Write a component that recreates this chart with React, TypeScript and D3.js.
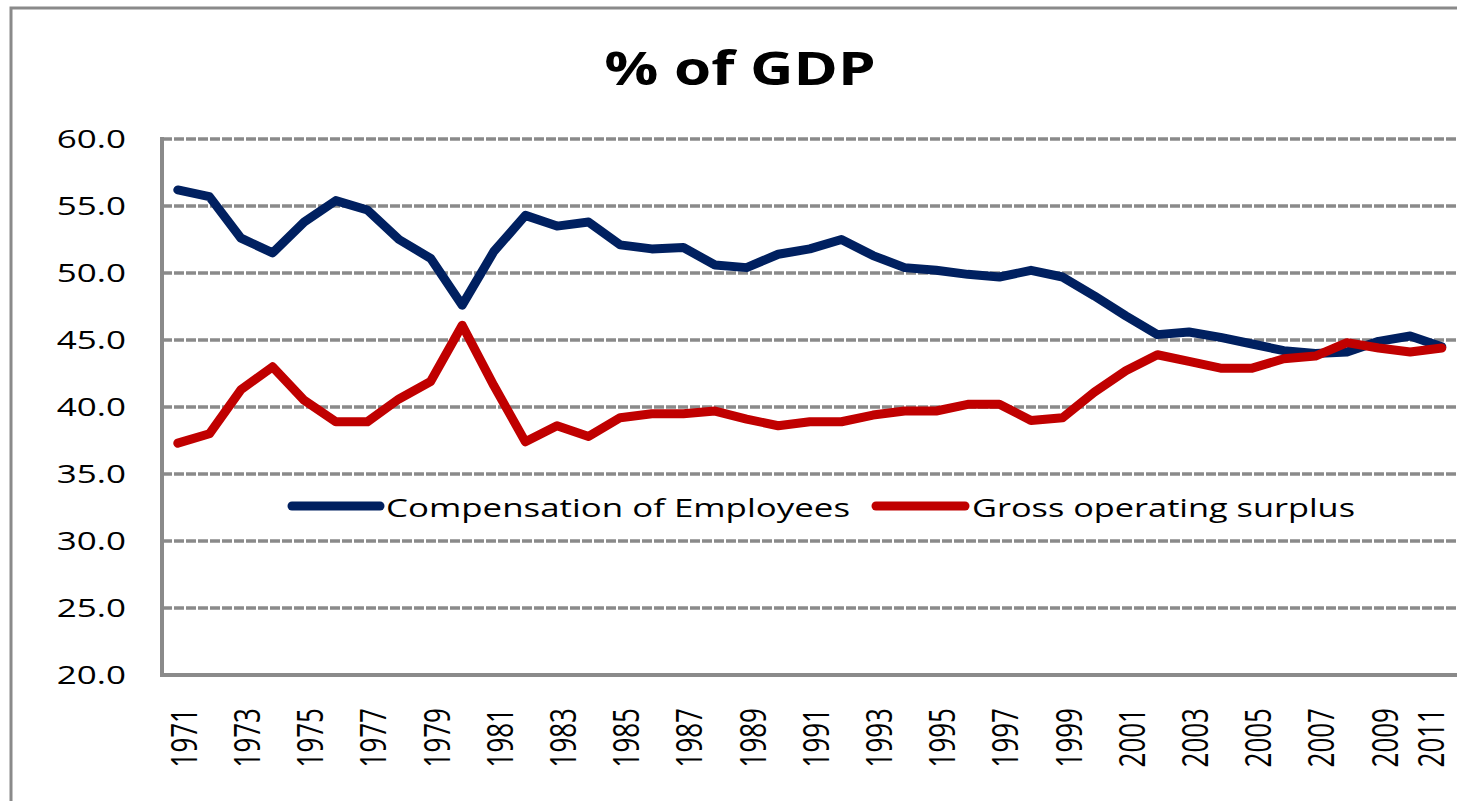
import React from 'react';
import * as d3 from 'd3';

// years 1971..2011
const years: string[] = [
  '1971', '1972', '1973', '1974', '1975', '1976', '1977', '1978', '1979', '1980',
  '1981', '1982', '1983', '1984', '1985', '1986', '1987', '1988', '1989', '1990',
  '1991', '1992', '1993', '1994', '1995', '1996', '1997', '1998', '1999', '2000',
  '2001', '2002', '2003', '2004', '2005', '2006', '2007', '2008', '2009', '2010', '2011',
];

const compensation: number[] = [
  56.2, 55.7, 52.6, 51.5, 53.8, 55.4, 54.7, 52.5, 51.1, 47.6,
  51.6, 54.3, 53.5, 53.8, 52.1, 51.8, 51.9, 50.6, 50.4, 51.4,
  51.8, 52.5, 51.3, 50.4, 50.2, 49.9, 49.7, 50.2, 49.7, 48.3,
  46.8, 45.4, 45.6, 45.2, 44.7, 44.2, 44.0, 44.1, 44.9, 45.3, 44.5,
];

const surplus: number[] = [
  37.3, 38.0, 41.3, 43.0, 40.5, 38.9, 38.9, 40.6, 41.9, 46.1,
  41.6, 37.4, 38.6, 37.8, 39.2, 39.5, 39.5, 39.7, 39.1, 38.6,
  38.9, 38.9, 39.4, 39.7, 39.7, 40.2, 40.2, 39.0, 39.2, 41.1,
  42.7, 43.9, 43.4, 42.9, 42.9, 43.6, 43.8, 44.8, 44.4, 44.1, 44.4,
];

const yTicks: number[] = [20, 25, 30, 35, 40, 45, 50, 55, 60];

const seriesNames = ['Compensation of Employees', 'Gross operating surplus'];
const seriesColors = ['#002060', '#C00000'];

const W = 1457;
const H = 801;
const FONT = "'Open Sans', 'DejaVu Sans', sans-serif";
const SX = 1.4; // text in the original is stretched horizontally

const App: React.FC = () => {
  const left = 162;
  const right = 1457.6;
  const top = 139;
  const bottom = 675;

  const x = d3.scalePoint<string>().domain(years).range([left, right]).padding(0.5);
  const y = d3.scaleLinear().domain([20, 60]).range([bottom, top]);

  const line = d3.line<number>()
    .x((_, i) => x(years[i]) as number)
    .y(d => y(d));

  const series = [compensation, surplus];

  return (
    <svg width={W} height={H} style={{ position: 'absolute', left: 0, top: 0, background: '#fff' }}>
      <rect x={11} y={8} width={1500} height={820} fill="#fff" stroke="#8a8a8a" strokeWidth={3} />

      <text
        transform={`translate(740,85) scale(${SX},1)`}
        textAnchor="middle"
        fontFamily={FONT}
        fontWeight="bold"
        fontSize={46}
        textLength={194}
        lengthAdjust="spacingAndGlyphs"
      >% of GDP</text>

      {/* gridlines */}
      {yTicks.filter(t => t > 20).map(t => (
        <line key={t} x1={left} x2={right} y1={y(t)} y2={y(t)}
          stroke="#8a8a8a" strokeWidth={3.5} strokeDasharray="10 2" />
      ))}

      {/* axes */}
      <line x1={left} x2={left} y1={top - 2} y2={bottom + 2} stroke="#8a8a8a" strokeWidth={4} />
      <line x1={left - 2} x2={right} y1={bottom} y2={bottom} stroke="#8a8a8a" strokeWidth={4} />

      {yTicks.map(t => (
        <text key={t}
          transform={`translate(126,${y(t) + 9}) scale(${SX},1)`}
          textAnchor="end" fontFamily={FONT} fontSize={25} fill="#000">
          {d3.format('.1f')(t)}
        </text>
      ))}

      {years.filter((_, i) => i % 2 === 0).map(yr => (
        <text key={yr}
          transform={`translate(${Math.min((x(yr) as number) + 19, W - 13)},708) scale(${SX},1) rotate(-90)`}
          textAnchor="end" fontFamily={FONT} fontSize={26} fill="#000">
          {yr}
        </text>
      ))}

      {series.map((s, i) => (
        <path key={i} d={line(s) || ''} fill="none" stroke={seriesColors[i]}
          strokeWidth={9} strokeLinejoin="round" strokeLinecap="round" />
      ))}

      {/* legend */}
      {[
        { x0: 292, x1: 380, tx: 386, len: 464 },
        { x0: 876, x1: 965, tx: 972, len: 383 },
      ].map((l, i) => (
        <g key={i}>
          <line x1={l.x0} x2={l.x1} y1={506} y2={506} stroke={seriesColors[i]}
            strokeWidth={9} strokeLinecap="round" />
          <text transform={`translate(${l.tx},517) scale(${SX},1)`}
            fontFamily={FONT} fontSize={26} fill="#000"
            textLength={l.len / SX} lengthAdjust="spacingAndGlyphs">
            {seriesNames[i]}
          </text>
        </g>
      ))}
    </svg>
  );
};

export default App;
